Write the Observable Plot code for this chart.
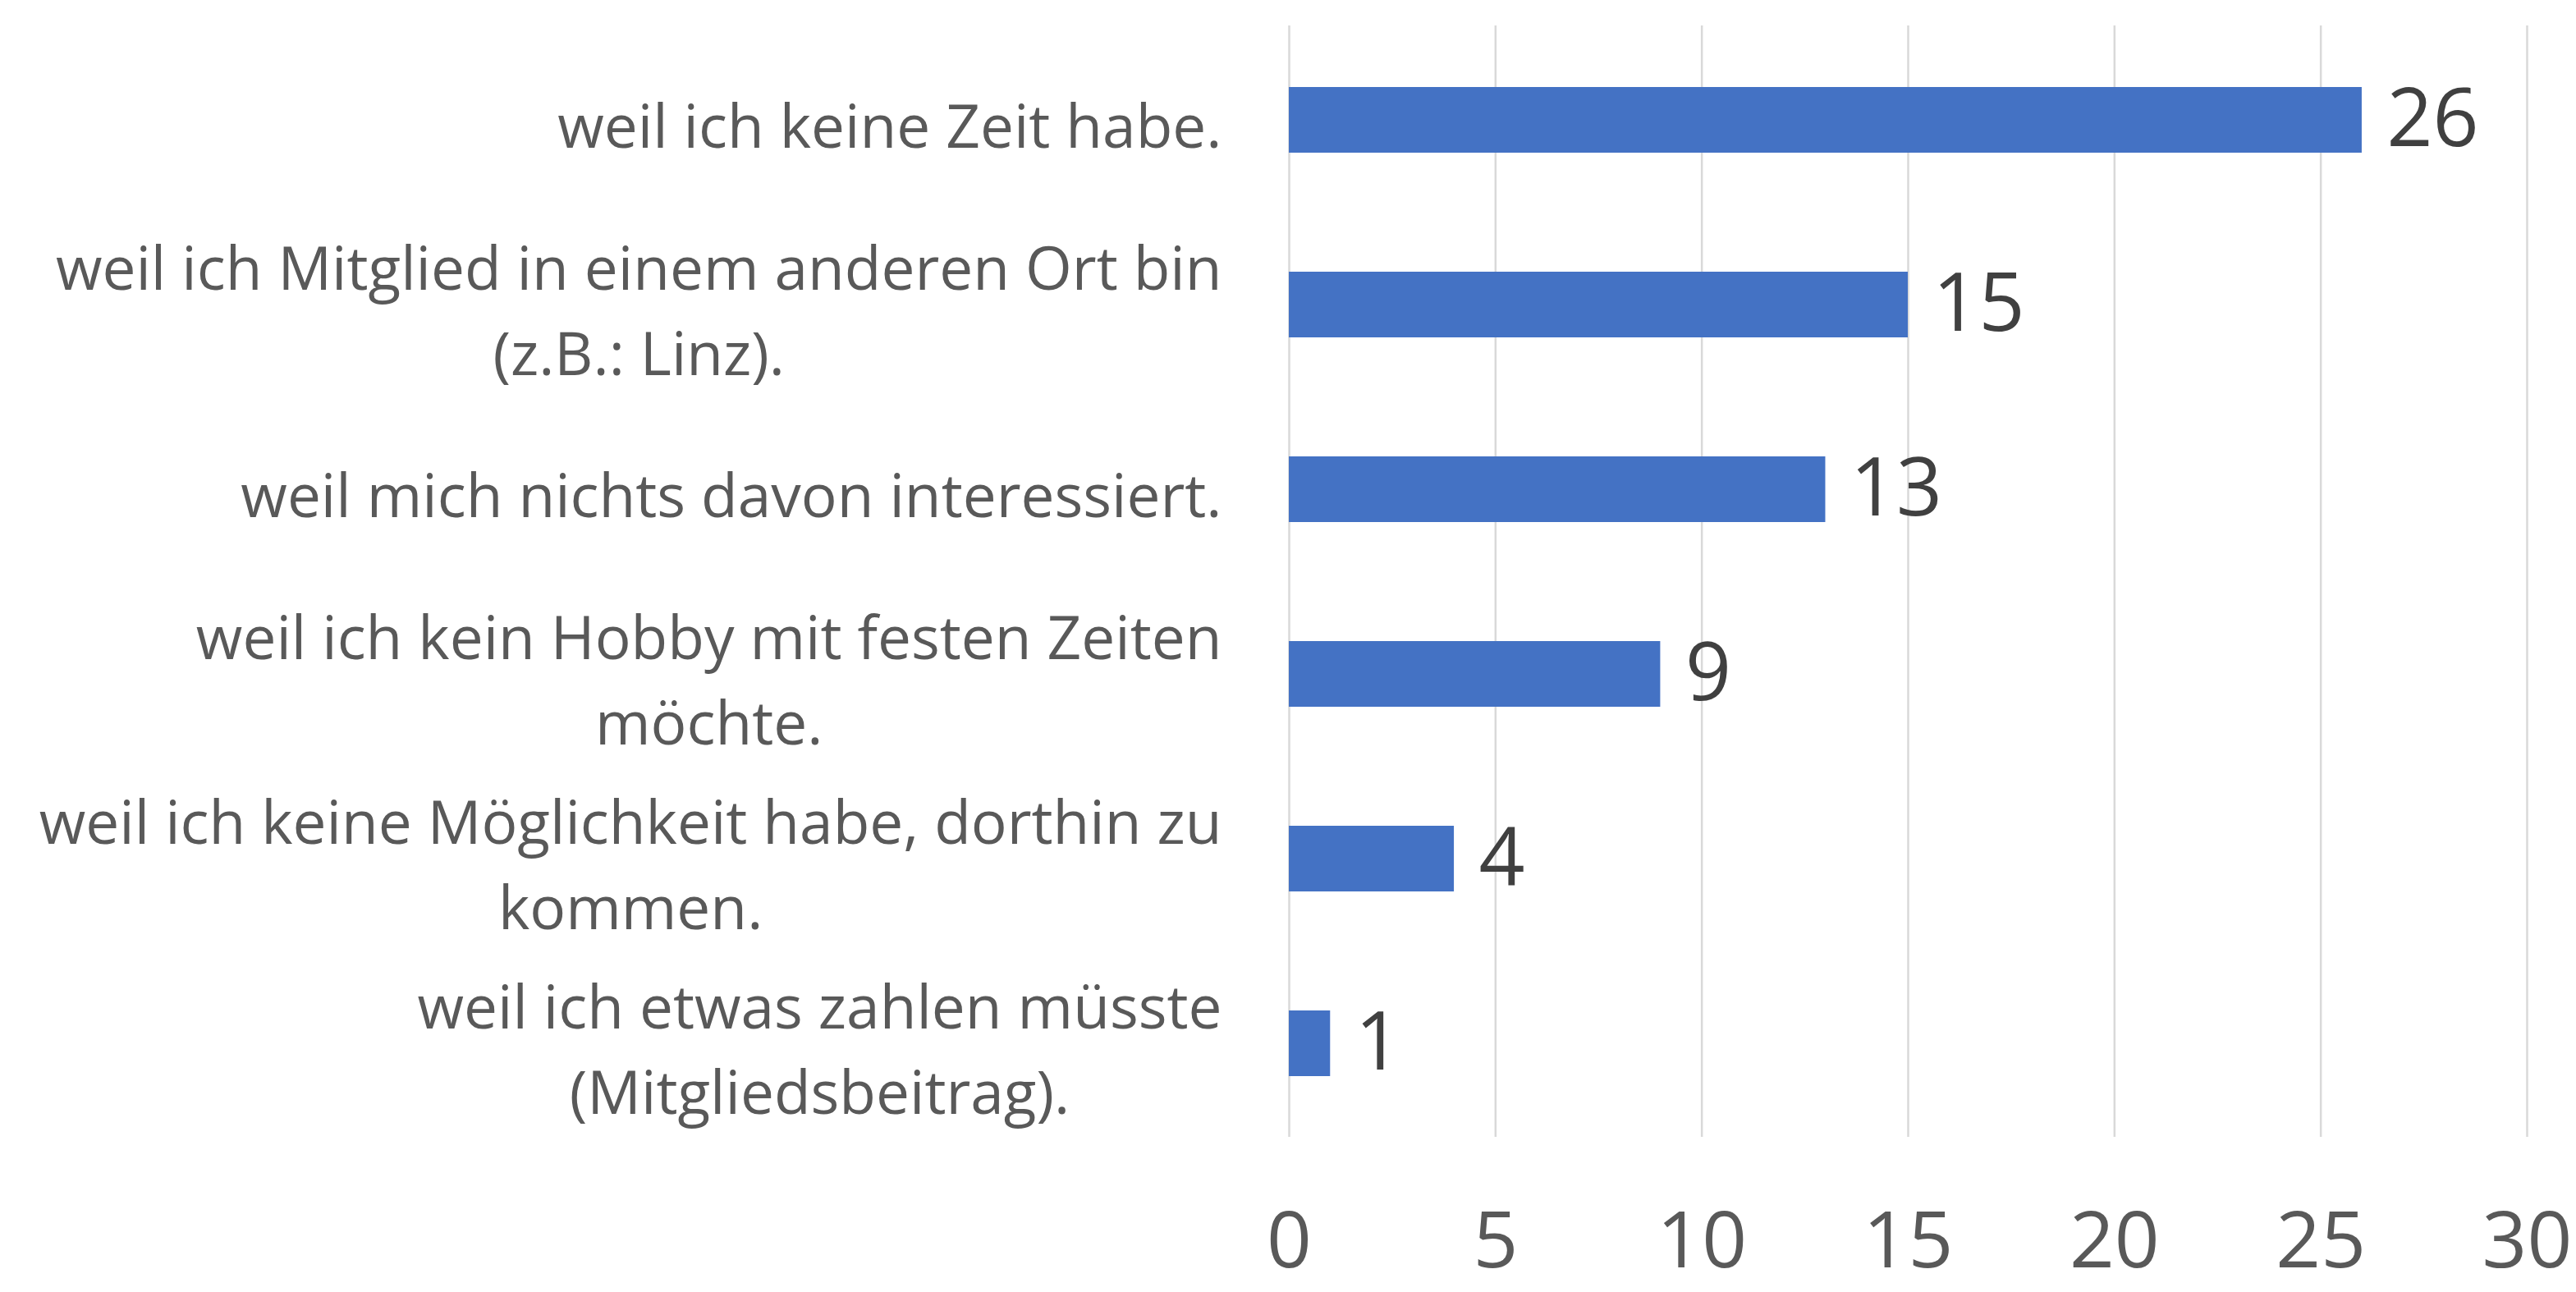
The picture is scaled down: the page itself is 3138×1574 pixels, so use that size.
<!DOCTYPE html>
<html><head><meta charset="utf-8">
<script src="https://cdn.jsdelivr.net/npm/d3@7"></script>
<script src="https://cdn.jsdelivr.net/npm/@observablehq/plot@0.6"></script>
<style>html,body{margin:0;padding:0;background:#fff} svg{display:block}</style>
</head><body><div id="chart"></div>
<script>
const categories = [
  "weil ich keine Zeit habe.",
  "weil ich Mitglied in einem anderen Ort bin\n(z.B.: Linz).",
  "weil mich nichts davon interessiert.",
  "weil ich kein Hobby mit festen Zeiten\nmöchte.",
  "weil ich keine Möglichkeit habe, dorthin zu\nkommen.",
  "weil ich etwas zahlen müsste\n(Mitgliedsbeitrag)."
];
const values = [26, 15, 13, 9, 4, 1];
const xTicks = [0, 5, 10, 15, 20, 25, 30];

const data = categories.map((c, i) => ({category: c, value: values[i]}));
const FONT = "'Open Sans', sans-serif";
const labelSize = 73;
const canvas = document.createElement("canvas");
const ctx = canvas.getContext("2d");
ctx.font = `${labelSize}px 'Open Sans'`;
const textW = s => Math.max(...s.split("\n").map(l => ctx.measureText(l).width));

const W = 3138, H = 1574, mL = 1570, mR = 60, mT = 31, mB = 189;
const labelGap = 82;

const chart = Plot.plot({
  width: W, height: H,
  marginLeft: mL, marginRight: mR, marginTop: mT, marginBottom: mB,
  style: {fontFamily: FONT, background: "#fff"},
  x: {domain: [0, 30], ticks: xTicks},
  y: {domain: categories, paddingInner: 0.645, paddingOuter: 0.3225, axis: null},
  marks: [
    Plot.gridX(xTicks, {stroke: "#d9d9d9", strokeWidth: 2.5, strokeOpacity: 1}),
    Plot.barX(data, {x: "value", y: "category", fill: "#4472C4"}),
    Plot.text(data, {x: "value", y: "category", text: d => String(d.value), textAnchor: "start", dx: 30, fontSize: 98, fill: "#404040"}),
    Plot.axisX({ticks: xTicks, tickSize: 0, tickPadding: 90, fontSize: 96, color: "#595959", label: null}),
    ...categories.map(c => Plot.text([c], {
      y: d => d, frameAnchor: "left", textAnchor: "middle",
      dx: -labelGap - textW(c) / 2, fontSize: labelSize, lineHeight: 104 / labelSize, fill: "#595959"
    }))
  ]
});
document.getElementById("chart").appendChild(chart);
</script>
</body></html>
